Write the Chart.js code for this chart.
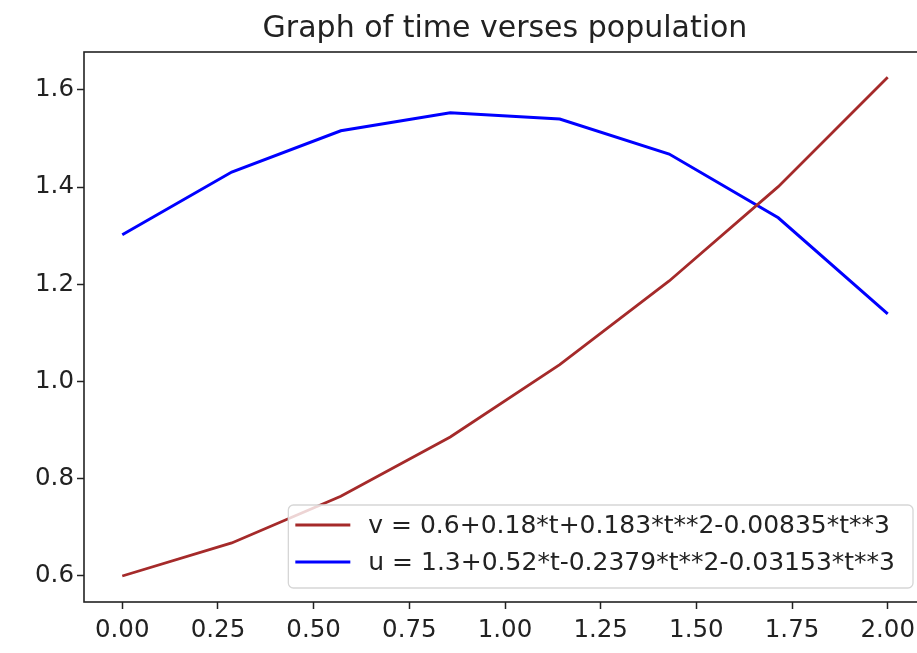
<!DOCTYPE html>
<html>
<head>
<meta charset="utf-8">
<script src="https://cdn.jsdelivr.net/npm/chart.js@4/dist/chart.umd.min.js"></script>
<style>
    html, body { margin: 0; padding: 0; background: #fff; overflow: hidden; }
    #wrap { width: 917px; height: 653px; overflow: hidden; }
</style>
</head>
<body>
<div id="wrap"><canvas id="chartPop" width="940" height="653"></canvas></div>
<script>
// time points and the two curves
var timeVals = [0, 0.286, 0.571, 0.857, 1.143, 1.429, 1.714, 2.0];
var vVals = [0.6, 0.668, 0.764, 0.886, 1.035, 1.207, 1.401, 1.626];
var uVals = [1.302, 1.431, 1.516, 1.553, 1.540, 1.468, 1.337, 1.139];
var seriesLabels = ['v = 0.6+0.18*t+0.183*t**2-0.00835*t**3', 'u = 1.3+0.52*t-0.2379*t**2-0.03153*t**3'];
var chartTitle = 'Graph of time verses population';

var fontFamily = '"DejaVu Sans", sans-serif';

function toPoints(ys) {
    var pts = [];
    for (var i = 0; i < timeVals.length; i++) {
        pts.push({ x: timeVals[i], y: ys[i] });
    }
    return pts;
}

// box round the plot, like matplotlib spines
var frameBox = {
    id: 'frameBox',
    afterLayout: function (chart) {
        // center the title over the plot area, not the whole canvas
        if (chart.titleBlock) {
            chart.titleBlock.left = chart.chartArea.left;
            chart.titleBlock.right = chart.chartArea.right;
        }
    },
    afterDatasetsDraw: function (chart) {
        var a = chart.chartArea, ctx = chart.ctx;
        ctx.save();
        ctx.strokeStyle = '#222';
        ctx.lineWidth = 1.6;
        ctx.strokeRect(a.left, a.top, a.right - a.left, a.bottom - a.top);
        ctx.restore();
    }
};

// legend drawn inside the plot, lower right
var innerLegend = {
    id: 'innerLegend',
    afterDraw: function (chart) {
        var a = chart.chartArea, ctx = chart.ctx;
        var sets = chart.data.datasets;
        ctx.save();
        ctx.font = '25px ' + fontFamily;
        var textW = 0;
        sets.forEach(function (ds) { textW = Math.max(textW, ctx.measureText(ds.label).width); });
        var w = 7 + 55 + 18 + textW + 18;
        var h = 83;
        var right = a.right - 13, bottom = a.bottom - 14;
        var left = right - w, top = bottom - h;

        ctx.beginPath();
        ctx.roundRect(left, top, w, h, 5);
        ctx.fillStyle = 'rgba(255,255,255,0.8)';
        ctx.fill();
        ctx.strokeStyle = '#d6d6d6';
        ctx.lineWidth = 1.3;
        ctx.stroke();

        sets.forEach(function (ds, i) {
            var y = top + 20 + i * 37;
            ctx.beginPath();
            ctx.moveTo(left + 7, y);
            ctx.lineTo(left + 62, y);
            ctx.strokeStyle = ds.borderColor;
            ctx.lineWidth = ds.borderWidth;
            ctx.stroke();
            ctx.fillStyle = '#222';
            ctx.textBaseline = 'middle';
            ctx.textAlign = 'left';
            ctx.fillText(ds.label, left + 80, y + 1);
        });
        ctx.restore();
    }
};

var ctxPop = document.getElementById('chartPop');
var popChart = new Chart(ctxPop, {
    type: 'line',
    data: {
        datasets: [{
            label: seriesLabels[0],
            data: toPoints(vVals),
            borderColor: '#a52a2a',
            borderWidth: 2.8,
            pointRadius: 0,
            tension: 0
        }, {
            label: seriesLabels[1],
            data: toPoints(uVals),
            borderColor: '#0000ff',
            borderWidth: 3,
            pointRadius: 0,
            tension: 0
        }]
    },
    options: {
        responsive: false,
        animation: false,
        layout: { padding: { left: 0, top: 0, bottom: 0, right: 14 } },
        plugins: {
            legend: { display: false },
            tooltip: { enabled: false },
            title: {
                display: true,
                text: chartTitle,
                color: '#222',
                font: { family: fontFamily, size: 30, weight: 'normal' },
                padding: { top: 11, bottom: 5 }
            }
        },
        scales: {
            x: {
                type: 'linear',
                min: -0.1,
                max: 2.1,
                afterFit: function (s) { s.height = 51; },
                grid: { drawOnChartArea: false, drawTicks: true, tickLength: 7, tickColor: '#222', tickWidth: 1.5 },
                border: { display: false },
                ticks: {
                    stepSize: 0.25,
                    includeBounds: false,
                    padding: 7,
                    maxRotation: 0,
                    color: '#222',
                    font: { family: fontFamily, size: 24.5 },
                    callback: function (v) { return v.toFixed(2); }
                }
            },
            y: {
                min: 0.5465,
                max: 1.678,
                afterFit: function (s) { s.width = 84; },
                grid: { drawOnChartArea: false, drawTicks: true, tickLength: 7, tickColor: '#222', tickWidth: 1.5 },
                border: { display: false },
                ticks: {
                    stepSize: 0.2,
                    includeBounds: false,
                    padding: 3,
                    color: '#222',
                    font: { family: fontFamily, size: 24.5 },
                    callback: function (v) { return v.toFixed(1); }
                }
            }
        }
    },
    plugins: [frameBox, innerLegend]
});
</script>
</body>
</html>
